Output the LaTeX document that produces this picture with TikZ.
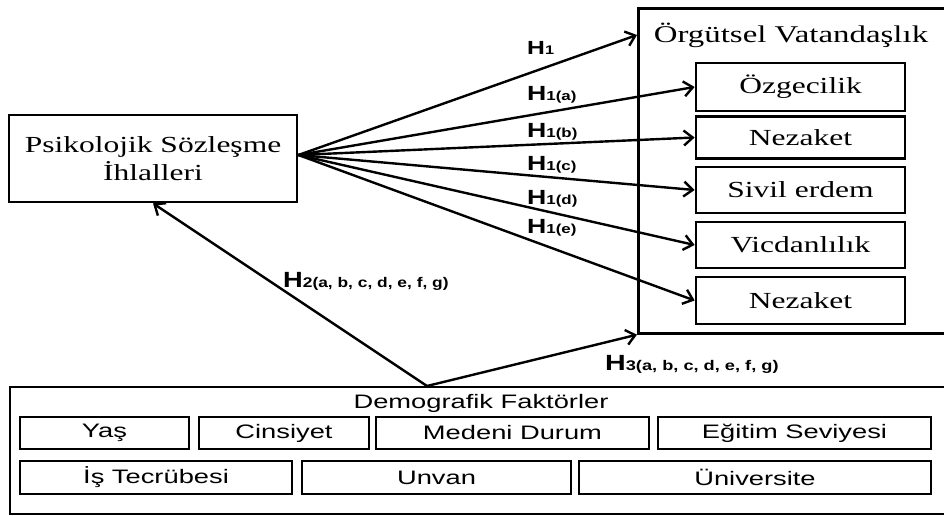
\documentclass[tikz,border=0pt]{standalone}
\usepackage{fontspec}
\setmainfont{Liberation Serif}
\setsansfont{Liberation Sans}
\usetikzlibrary{arrows.meta,calc}
\newcommand{\myserx}[1]{\scalebox{1.37}[1]{#1}}
\newcommand{\mysanx}[1]{\scalebox{1.4}[1]{#1}}
\newcommand{\myhyp}[4]{\scalebox{#4}[1]{\bfseries\sffamily\fontsize{#1}{#1}\selectfont H\fontsize{#2}{#2}\selectfont #3}}
\begin{document}
\begin{tikzpicture}[x=1pt,y=-1pt,
  box/.style={draw, line width=2.7pt, inner sep=0pt},
  serif/.style={font=\fontsize{23}{28}\selectfont},
  sans/.style={font=\fontsize{19.5}{22}\selectfont\sffamily},
  arr/.style={line width=2.4pt, -{Straight Barb[length=9pt,width=15pt]}},
  lab/.style={anchor=base west, inner sep=0pt}]
\useasboundingbox (0,0) rectangle (944,516);
\fill[white] (0,0) rectangle (944,516);

% left box
\node[box, minimum width=288pt, minimum height=87pt, align=center, serif] (psc) at (153,158.5)
  {\myserx{Psikolojik Sözleşme}\\\myserx{İhlalleri}};

% right big box
\node[box, minimum width=310pt, minimum height=325pt, anchor=north west] (ov) at (637,7) {};
\node[inner sep=0pt, font=\fontsize{24}{28}\selectfont] (ovt) at (791,35) {\myserx{Örgütsel Vatandaşlık}};
\node[box, minimum width=209pt, minimum height=48pt, serif] (b1) at (800.5,87) {\myserx{Özgecilik}};
\node[box, minimum width=209pt, minimum height=42pt, serif] (b2) at (800.5,137.5) {\myserx{Nezaket}};
\node[box, minimum width=209pt, minimum height=46pt, serif] (b3) at (800.5,190) {\myserx{Sivil erdem}};
\node[box, minimum width=209pt, minimum height=46pt, serif] (b4) at (800.5,245) {\myserx{Vicdanlılık}};
\node[box, minimum width=209pt, minimum height=47pt, serif] (b5) at (800.5,300.5) {\myserx{Nezaket}};

% bottom box
\node[box, line width=2.4pt, minimum width=944pt, minimum height=127pt, anchor=north west] (demo) at (9,386) {};
\node[sans, inner sep=0pt] (demot) at (481,403) {\mysanx{Demografik Faktörler}};
\node[box, line width=2.4pt, minimum width=169pt, minimum height=32pt, sans] (d1) at (104.5,433) {\mysanx{Yaş}};
\node[box, line width=2.4pt, minimum width=170pt, minimum height=32pt, sans] (d2) at (284,433) {\mysanx{Cinsiyet}};
\node[box, line width=2.4pt, minimum width=273pt, minimum height=32pt, sans] (d3) at (512.5,433) {\mysanx{Medeni Durum}};
\node[box, line width=2.4pt, minimum width=273pt, minimum height=32pt, sans] (d4) at (794.5,433) {\mysanx{Eğitim Seviyesi}};
\node[box, line width=2.4pt, minimum width=272pt, minimum height=33pt, sans] (d5) at (156,477.5) {\mysanx{İş Tecrübesi}};
\node[box, line width=2.4pt, minimum width=269pt, minimum height=33pt, sans] (d6) at (436.5,477.5) {\mysanx{Unvan}};
\node[box, line width=2.4pt, minimum width=352pt, minimum height=33pt, sans] (d7) at (755,477.5) {\mysanx{Üniversite}};

% connectors
\coordinate (src) at ([yshift=3.5pt]psc.east);
\draw[arr] (src) -- (ovt.west -| ov.west);
\draw[arr] (src) -- (b1.west);
\draw[arr] (src) -- (b2.west);
\draw[arr] (src) -- (b3.west);
\draw[arr] (src) -- (b4.west);
\draw[arr] (src) -- (b5.west);
\coordinate (apex) at (427,386);
\draw[arr] (apex) -- (psc.south);
\draw[arr] (apex) -- (ov.south west);

% labels
\node[lab] (h1)  at (527,55)  {\myhyp{19}{12.5}{1}{1.3}};
\node[lab] (h1a) at (527,101) {\myhyp{20.5}{13}{1(a)}{1.3}};
\node[lab] (h1b) at (527,137) {\myhyp{20.5}{13}{1(b)}{1.3}};
\node[lab] (h1c) at (527,170) {\myhyp{20.5}{13}{1(c)}{1.3}};
\node[lab] (h1d) at (527,204) {\myhyp{20.5}{13}{1(d)}{1.3}};
\node[lab] (h1e) at (527,233) {\myhyp{20.5}{13}{1(e)}{1.3}};
\node[lab] (h2)  at (283,287) {\myhyp{22}{14}{2(a, b, c, d, e, f, g)}{1.24}};
\node[lab] (h3)  at (605,370) {\myhyp{22}{14}{3(a, b, c, d, e, f, g)}{1.3}};
\end{tikzpicture}
\end{document}
